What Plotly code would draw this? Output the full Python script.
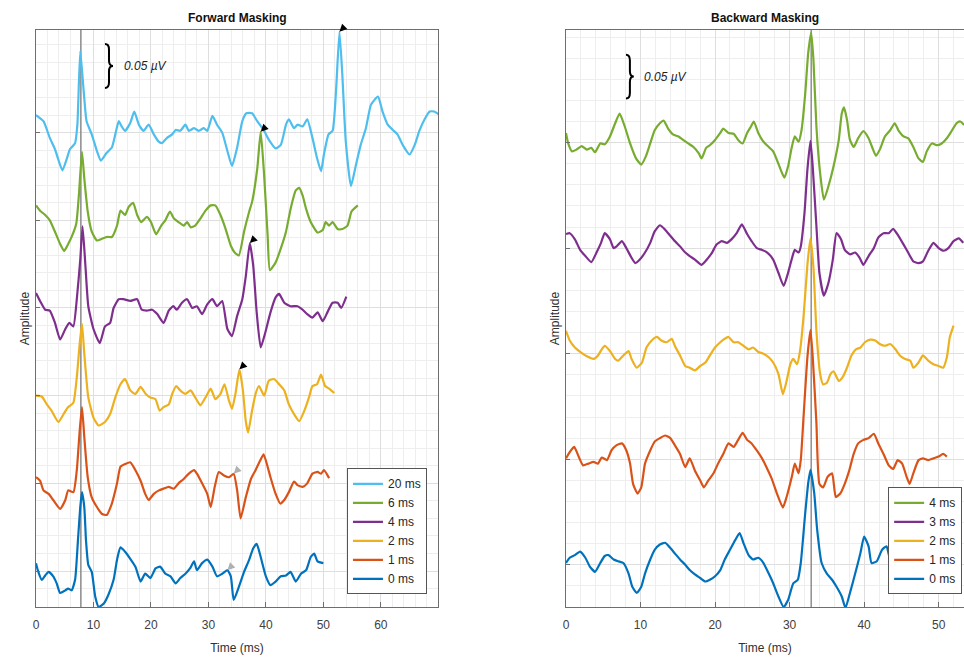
import plotly.graph_objects as go

# ---------------------------------------------------------------------------
# Averaged evoked responses: (time in ms, amplitude in nV) for each condition.
# Each waveform is drawn on its own vertical offset (stacked plot).
# ---------------------------------------------------------------------------

# Forward masking, offsets of 100 nV between traces
fwd_20ms = [(0.0, 20), (1.3, 13), (2.4, -6), (3.3, -19), (4.6, -43), (5.4, -29), (5.9, -19), (6.8, -12),
            (7.2, 9), (7.7, 93), (8.3, 47), (8.8, 13), (9.7, -2), (10.6, -21), (11.3, -32), (12.3, -23),
            (13.2, -17), (13.8, -2), (14.4, 13), (14.9, 7), (15.5, 2), (16.4, 11), (17.1, 24), (17.9, 9),
            (18.7, 2), (19.6, 9), (20.5, -2), (21.3, -10), (21.9, -12), (22.8, -6), (23.7, -2), (24.3, 3),
            (25.1, 2), (26.0, 9), (26.6, 2), (27.5, 5), (28.3, 2), (29.2, 5), (29.8, 2), (30.7, 19),
            (31.5, 9), (32.4, 0), (33.3, -21), (34.1, -38), (35.0, -17), (35.9, 13), (36.6, 22), (37.6, 22),
            (38.5, 13), (39.7, 2), (40.5, -8), (41.7, -18), (42.6, -14), (43.5, 9), (44.0, 15), (44.9, 5),
            (45.5, 9), (46.4, 7), (47.2, 15), (48.1, -6), (48.9, -29), (49.6, -44), (50.1, -25), (50.9, -2),
            (51.6, 2), (52.2, 47), (52.8, 115), (53.3, 66), (53.9, -10), (54.8, -61), (55.7, -36), (56.5, -14),
            (57.4, 5), (58.3, 32), (59.5, 41), (60.3, 24), (61.2, 9), (62.1, 3), (62.9, -2), (63.8, -14),
            (65.0, -25), (65.9, -14), (66.7, 2), (67.6, 15), (68.5, 24), (69.3, 24), (70.2, 20)]

fwd_6ms = [(0.0, 17), (0.7, 11), (1.6, 6), (2.4, 0), (3.3, -13), (4.2, -27), (4.9, -35), (5.6, -27),
           (6.2, -19), (7.0, -4), (7.5, 32), (8.0, 78), (8.4, 48), (9.0, 10), (9.7, -13), (10.6, -23),
           (11.5, -21), (12.4, -19), (13.2, -19), (14.1, -6), (14.7, 11), (15.5, 6), (16.1, 15), (16.9, 20),
           (17.6, 6), (18.3, -2), (19.3, 4), (20.0, -2), (20.9, -16), (21.8, -6), (22.5, 0), (23.3, 10),
           (24.0, 2), (24.8, -2), (25.7, -6), (26.3, -2), (26.9, -8), (27.7, -6), (28.6, 2), (29.5, 11),
           (30.4, 17), (31.2, 17), (32.1, 6), (33.0, -10), (33.9, -29), (34.6, -37), (35.3, -40), (36.2, -13),
           (37.1, 10), (37.6, 21), (38.5, 59), (39.1, 101), (39.7, 51), (40.3, -17), (40.7, -57), (41.7, -48),
           (42.6, -32), (43.5, -13), (44.3, 13), (45.2, 34), (45.8, 37), (46.4, 28), (47.0, 13), (47.8, -2),
           (49.0, -14), (49.9, -11), (50.4, -2), (51.0, -6), (51.6, -2), (52.5, -10), (53.3, -10), (54.2, -6),
           (54.9, 10), (56.0, 17)]

fwd_4ms = [(0.0, 17), (0.7, 8), (1.6, -2), (2.4, -3), (3.3, -17), (4.2, -36), (5.1, -24), (5.8, -17),
           (6.5, -21), (7.1, 10), (7.7, 55), (8.1, 93), (8.6, 48), (9.1, 2), (10.0, -24), (11.1, -40),
           (12.0, -21), (12.9, -17), (13.5, 0), (14.4, 10), (15.2, 10), (16.4, 8), (17.6, 10), (18.4, -2),
           (19.3, -3), (20.2, -2), (21.1, -7), (22.2, -17), (23.1, -3), (23.9, 2), (24.5, -2), (25.4, 6),
           (26.3, 10), (27.2, 0), (28.0, 2), (28.9, -7), (29.8, 4), (30.7, 10), (31.5, 2), (32.4, 8),
           (33.3, -24), (34.1, -32), (35.0, -9), (35.9, 10), (36.5, 36), (37.2, 74), (37.8, 48), (38.4, -5),
           (39.1, -45), (39.9, -28), (40.8, -5), (41.7, 12), (42.3, 16), (43.2, 6), (44.3, 2), (45.5, 2),
           (46.4, -2), (47.2, -7), (48.1, -11), (49.0, -5), (49.9, -15), (50.7, -5), (51.6, 6), (52.5, 6),
           (53.1, 0), (54.0, 13)]

fwd_2ms = [(0.0, 0), (1.0, -1), (1.9, -10), (2.7, -17), (3.9, -30), (4.8, -21), (5.6, -13), (6.5, -8),
           (7.1, 21), (7.6, 59), (8.0, 82), (8.4, 48), (9.1, -2), (10.0, -25), (10.9, -34), (12.0, -30),
           (12.9, -21), (13.8, -2), (14.7, 13), (15.5, 19), (16.4, 6), (17.3, 2), (18.2, 10), (19.1, 2),
           (19.9, -2), (20.8, -4), (21.5, -17), (22.2, -13), (23.1, -10), (23.7, 2), (24.4, 11), (25.1, 6),
           (26.0, 2), (26.9, 6), (27.7, -2), (28.6, -11), (29.5, -2), (30.4, 8), (31.2, -4), (32.1, 2),
           (32.8, 13), (33.6, -6), (34.1, -15), (34.7, 2), (35.4, 30), (36.0, 6), (36.5, -29), (36.9, -42),
           (37.6, -17), (38.2, 2), (38.8, 11), (39.7, 0), (40.5, 17), (41.4, 19), (42.3, 13), (43.2, 6),
           (44.0, -10), (44.9, -21), (45.8, -29), (46.7, -17), (47.5, -2), (48.1, 11), (48.9, 13), (49.6, 24),
           (50.3, 11), (51.0, 8), (51.9, 3)]

fwd_1ms = [(0.0, 7), (0.7, 3), (1.3, -8), (2.2, -12), (3.0, -19), (4.2, -29), (5.1, -19), (5.6, -8),
           (6.5, -10), (7.1, 15), (7.6, 60), (8.0, 87), (8.4, 53), (9.0, 7), (9.7, -16), (10.6, -27),
           (11.5, -35), (12.3, -36), (13.2, -23), (14.1, 0), (14.7, 19), (15.5, 22), (16.4, 24), (17.3, 15),
           (18.2, 3), (19.0, -12), (19.6, -19), (20.5, -12), (21.4, -8), (22.2, -6), (23.1, -4), (24.0, -6),
           (24.8, 0), (25.7, 5), (26.6, 11), (27.5, 15), (28.0, 11), (28.9, 0), (29.8, -12), (30.4, -27),
           (31.1, -4), (31.8, 13), (32.7, 9), (33.6, 7), (34.4, 11), (35.0, -8), (35.6, -40), (36.5, -16),
           (37.4, 5), (38.2, 15), (39.0, 26), (39.6, 33), (40.3, 19), (40.8, 7), (41.7, -12), (42.5, -23),
           (43.2, -19), (44.0, -10), (44.9, 2), (45.5, -2), (46.4, -4), (47.2, 0), (48.1, 11), (49.0, 13),
           (49.6, 11), (50.1, 15), (51.0, 6)]

fwd_0ms = [(0.0, 9), (0.4, -1), (1.0, -10), (1.6, -5), (2.2, -1), (3.0, -6), (3.6, -14), (4.2, -25),
           (5.1, -22), (5.6, -20), (6.2, -22), (6.8, -10), (7.3, 35), (7.7, 73), (8.0, 90), (8.4, 73),
           (8.7, 35), (9.1, 7), (9.7, -1), (10.3, -29), (10.9, -41), (11.8, -37), (12.6, -27), (13.5, -10),
           (14.1, 13), (14.7, 27), (15.5, 22), (16.4, 14), (17.3, 5), (18.2, -12), (19.0, -3), (19.9, -8),
           (20.8, 3), (21.6, 5), (22.5, -3), (23.4, -6), (24.3, -14), (25.1, -8), (26.0, -3), (26.8, 3),
           (27.5, 11), (28.0, 1), (28.9, 9), (29.8, 13), (30.7, 5), (31.5, -6), (32.4, -3), (33.3, 1),
           (33.9, -6), (34.4, -33), (35.3, -18), (36.2, -1), (37.1, 13), (37.8, 26), (38.4, 31), (39.1, 16),
           (40.0, -6), (40.8, -16), (41.7, -12), (42.6, -6), (43.5, -5), (44.3, -1), (45.2, -12), (46.1, -3),
           (47.0, 1), (47.8, 16), (48.4, 20), (49.0, 11), (50.0, 9)]

# Backward masking, offsets of 120 nV between traces
bwd_4ms = [(0.0, 11), (0.3, -1), (0.8, -10), (1.4, -8), (2.1, -4), (2.8, -8), (3.4, -6), (3.9, -11),
           (4.6, -1), (5.2, -2), (5.9, 7), (6.6, 22), (7.2, 33), (7.9, 18), (8.6, -1), (9.4, -18),
           (10.1, -25), (10.7, -16), (11.3, -1), (11.9, 14), (12.6, 22), (13.1, 25), (13.7, 16), (14.4, 9),
           (15.1, 7), (15.7, 3), (16.4, -1), (17.1, -5), (17.8, -12), (18.2, -18), (18.8, -6), (19.3, -3),
           (20.0, 3), (20.7, 11), (21.1, 16), (21.8, 11), (22.5, 10), (23.1, 3), (23.7, -1), (24.3, 11),
           (24.8, 18), (25.2, 24), (25.8, 11), (26.5, 1), (27.2, -5), (27.8, -10), (28.5, -24), (29.3, -40),
           (29.8, -27), (30.3, -5), (30.7, 7), (31.2, 1), (31.6, 14), (32.1, 56), (32.5, 102), (32.9, 125),
           (33.2, 94), (33.6, 18), (34.1, -35), (34.6, -65), (35.2, -50), (35.9, -27), (36.6, 3), (37.0, 33),
           (37.3, 40), (37.7, 26), (38.1, 3), (38.6, -5), (39.2, 5), (39.9, 13), (40.6, 5), (41.2, -8),
           (41.6, -15), (42.1, -8), (42.8, 7), (43.5, 14), (44.1, 22), (44.6, 14), (45.3, 7), (45.9, 5),
           (46.6, -5), (47.3, -18), (47.9, -22), (48.4, -10), (49.1, -1), (49.8, -3), (50.4, -1), (51.1, 5),
           (51.8, 14), (52.4, 22), (52.9, 24), (53.4, 20)]

bwd_3ms = [(0.0, 16), (0.5, 17), (1.2, 10), (1.9, -2), (2.6, -9), (3.4, -16), (4.1, -5), (4.7, 6),
           (5.2, 17), (5.9, 10), (6.4, 0), (6.8, 2), (7.5, 8), (8.1, 0), (8.8, -11), (9.3, -17),
           (9.9, -13), (10.6, -5), (11.3, 6), (11.9, 19), (12.6, 26), (13.3, 21), (14.0, 14), (14.6, 8),
           (15.3, 2), (16.0, -5), (16.6, -9), (17.3, -13), (18.2, -19), (18.9, -13), (19.6, -5), (20.2, 4),
           (20.9, 8), (21.6, 6), (22.2, 10), (22.9, 17), (23.6, 27), (24.3, 16), (24.9, 8), (25.6, 0),
           (26.3, -2), (27.0, -5), (27.8, -13), (28.5, -28), (29.2, -43), (29.8, -28), (30.4, -9), (30.7, -2),
           (31.2, -5), (31.5, 2), (32.0, 40), (32.4, 90), (32.8, 122), (33.1, 93), (33.6, 25), (34.0, -28),
           (34.6, -54), (35.2, -40), (35.8, -13), (36.3, 17), (36.9, 10), (37.4, -2), (38.1, -7), (38.8, -5),
           (39.4, -11), (39.9, -19), (40.6, -9), (41.3, 0), (41.9, 12), (42.6, 17), (43.3, 17), (43.9, 22),
           (44.6, 14), (45.3, 4), (45.9, -5), (46.6, -15), (47.3, -17), (47.9, -15), (48.6, -3), (49.3, 6),
           (50.0, 0), (50.7, -3), (51.3, 0), (52.0, 8), (52.7, 11), (53.3, 6)]

bwd_2ms = [(0.0, 26), (0.5, 15), (1.2, 7), (1.9, 2), (2.8, -3), (3.7, -6), (4.3, -2), (4.8, 5),
           (5.2, 9), (5.9, 3), (6.6, -6), (7.0, -8), (7.7, -2), (8.4, 3), (8.8, -6), (9.5, -16),
           (10.2, -10), (10.8, 7), (11.5, 15), (12.2, 19), (12.8, 15), (13.5, 13), (14.2, 17), (14.6, 9),
           (15.3, -2), (16.0, -14), (16.6, -16), (17.3, -19), (18.0, -14), (18.7, -10), (19.3, -2), (20.0, 7),
           (20.7, 13), (21.3, 17), (21.8, 19), (22.5, 13), (23.1, 13), (23.8, 9), (24.5, 5), (25.1, 7),
           (25.8, 2), (26.5, 0), (27.2, -4), (27.8, -10), (28.5, -23), (29.1, -46), (29.6, -31), (30.1, -12),
           (30.5, -6), (31.0, -12), (31.4, 3), (31.9, 45), (32.4, 102), (32.8, 131), (33.2, 98), (33.6, 26),
           (34.1, -23), (34.5, -35), (35.0, -33), (35.5, -23), (35.9, -20), (36.6, -31), (37.1, -27), (37.7, -16),
           (38.3, -2), (38.9, 5), (39.5, 7), (40.1, 13), (40.8, 16), (41.5, 15), (42.1, 11), (42.8, 9),
           (43.5, 11), (44.2, 5), (44.8, -2), (45.5, -6), (46.2, -8), (46.6, -16), (47.3, -10), (47.9, -2),
           (48.6, -8), (49.3, -12), (50.0, -14), (50.6, -16), (51.1, -4), (51.5, 19), (52.0, 32)]

bwd_1ms = [(0.0, 1), (0.5, 8), (1.1, 14), (1.7, 3), (2.3, -7), (3.0, -5), (3.7, -3), (4.3, -5),
           (4.8, 2), (5.5, -1), (6.1, 10), (6.8, 16), (7.5, 18), (8.1, 10), (8.6, -5), (9.0, -28),
           (9.6, -39), (10.1, -32), (10.6, -5), (11.3, 10), (11.9, 20), (12.6, 24), (13.3, 27), (14.0, 24),
           (14.6, 16), (15.3, 6), (16.0, -9), (16.6, 1), (17.3, -13), (18.0, -24), (18.5, -32), (19.1, -24),
           (19.8, -16), (20.4, -5), (21.1, 6), (21.8, 18), (22.5, 14), (23.1, 22), (23.7, 30), (24.3, 22),
           (24.9, 18), (25.6, 10), (26.3, 1), (26.9, -9), (27.6, -22), (28.3, -39), (29.1, -55), (29.6, -43),
           (30.3, -20), (30.7, -5), (31.2, -16), (31.5, -1), (31.9, 52), (32.4, 117), (32.8, 147), (33.1, 117),
           (33.6, 41), (34.0, -28), (34.5, -32), (35.1, -20), (35.7, -16), (36.2, -43), (36.8, -39), (37.4, -28),
           (38.0, -13), (38.6, 6), (39.2, 18), (39.9, 22), (40.6, 24), (41.3, 29), (41.9, 18), (42.6, 6),
           (43.3, -7), (43.9, -11), (44.5, -1), (45.1, -5), (45.7, -20), (46.1, -28), (46.6, -16), (47.3, -1),
           (47.9, 1), (48.6, -1), (49.3, 1), (50.0, 3), (50.6, 6), (51.1, 3)]

bwd_0ms = [(0.0, 2), (0.5, 8), (1.2, 11), (1.9, 15), (2.6, 8), (3.2, -2), (3.9, -8), (4.6, 2),
           (5.2, 10), (5.7, 11), (6.4, 6), (7.0, 4), (7.7, 2), (8.4, -10), (8.9, -25), (9.5, -32),
           (10.1, -25), (10.6, -10), (11.3, 6), (11.9, 17), (12.6, 23), (13.3, 25), (14.0, 19), (14.6, 13),
           (15.3, 6), (16.0, 0), (16.6, -6), (17.3, -11), (18.0, -15), (18.7, -19), (19.3, -17), (20.0, -13),
           (20.7, -6), (21.3, 6), (22.0, 17), (22.7, 28), (23.3, 36), (23.8, 25), (24.5, 11), (25.1, 6),
           (25.8, 8), (26.5, 2), (27.2, -10), (27.8, -21), (28.5, -36), (29.2, -48), (29.8, -40), (30.5, -21),
           (31.1, -17), (31.5, 2), (32.1, 59), (32.5, 93), (32.8, 108), (33.3, 82), (33.7, 40), (34.3, 2),
           (35.0, -10), (35.7, -17), (36.3, -25), (37.0, -36), (37.5, -49), (38.1, -32), (38.8, -10), (39.5, 13),
           (40.0, 32), (40.6, 21), (41.0, 2), (41.7, 4), (42.4, 17), (43.0, 21), (43.5, 6), (44.2, 2),
           (44.8, 8), (45.5, 2)]

# Condition labels, colours and stacking offsets (nV)
fwd_labels = ["20 ms", "6 ms", "4 ms", "2 ms", "1 ms", "0 ms"]
fwd_series = [fwd_20ms, fwd_6ms, fwd_4ms, fwd_2ms, fwd_1ms, fwd_0ms]
fwd_offsets = [500, 400, 300, 200, 100, 0]
fwd_colors = ["#4DBEEE", "#77AC30", "#7E2F8E", "#EDB120", "#D95319", "#0072BD"]

bwd_labels = ["4 ms", "3 ms", "2 ms", "1 ms", "0 ms"]
bwd_series = [bwd_4ms, bwd_3ms, bwd_2ms, bwd_1ms, bwd_0ms]
bwd_offsets = [480, 360, 240, 120, 0]
bwd_colors = ["#77AC30", "#7E2F8E", "#EDB120", "#D95319", "#0072BD"]

# Peaks flagged with arrowheads in the forward-masking panel: (series index, time ms, colour)
fwd_arrows = [(0, 52.8, "black"), (1, 39.1, "black"), (2, 37.2, "black"),
              (3, 35.4, "black"), (4, 34.4, "#b0b0b0"), (5, 33.3, "#b0b0b0")]

stim_time_fwd = 7.8     # probe onset marker (ms)
stim_time_bwd = 32.9
scale_bar_nv = 50       # 0.05 uV

fwd_xrange = [0, 69.95]
bwd_xrange = [0, 53.4]
fwd_yrange = [-41, 617]
bwd_yrange = [-48, 608]

FONT = "Liberation Sans, Arial, sans-serif"
AXIS_COL = "#6e6e6e"
GRID_COL = "#dedede"
MINOR_COL = "#eeeeee"

fig = go.Figure()

# Stimulus-onset markers (drawn first so the waveforms sit on top)
for xa, ya, t0, yr in (("x", "y", stim_time_fwd, fwd_yrange), ("x2", "y2", stim_time_bwd, bwd_yrange)):
    fig.add_trace(go.Scatter(x=[t0, t0], y=yr, mode="lines", line=dict(color="#8f8f8f", width=1.5),
                             xaxis=xa, yaxis=ya, showlegend=False, hoverinfo="skip"))


def add_panel(series, labels, offsets, colors, xa, ya, legend):
    for pts, lab, off, col in zip(series, labels, offsets, colors):
        fig.add_trace(go.Scatter(
            x=[p[0] for p in pts], y=[off + p[1] for p in pts],
            mode="lines", name=lab, line=dict(color=col, width=2.2, shape="spline", smoothing=0.5),
            xaxis=xa, yaxis=ya, legend=legend, hoverinfo="skip"))


add_panel(fwd_series, fwd_labels, fwd_offsets, fwd_colors, "x", "y", "legend")
add_panel(bwd_series, bwd_labels, bwd_offsets, bwd_colors, "x2", "y2", "legend2")


def xaxis_cfg(domain, rng, anchor):
    return dict(domain=domain, range=rng, anchor=anchor, dtick=10, tick0=0, ticks="inside", ticklen=5,
                tickcolor=AXIS_COL, showline=True, linecolor=AXIS_COL, linewidth=1, mirror=True,
                showgrid=True, gridcolor=GRID_COL, gridwidth=1, zeroline=False,
                minor=dict(dtick=2, tick0=0, showgrid=True, gridcolor=MINOR_COL, ticks=""),
                tickfont=dict(family=FONT, size=12, color="#404040"),
                ticklabelstandoff=7,
                title=dict(text="Time (ms)", font=dict(family=FONT, size=12, color="#303030"), standoff=12))


def yaxis_cfg(rng, offsets, minor_step, anchor):
    return dict(domain=[0, 1], range=rng, tickvals=offsets, showticklabels=False, ticks="inside",
                ticklen=4, tickcolor=AXIS_COL, showline=True, linecolor=AXIS_COL, linewidth=1, mirror=True,
                showgrid=True, gridcolor=GRID_COL, zeroline=False, anchor=anchor,
                minor=dict(dtick=minor_step, tick0=0, showgrid=True, gridcolor=MINOR_COL, ticks=""),
                title=dict(text="Amplitude", font=dict(family=FONT, size=12, color="#303030"), standoff=2))


fig.update_layout(
    width=964, height=658,
    margin=dict(l=36, r=0, t=30, b=51),
    paper_bgcolor="white", plot_bgcolor="white",
    font=dict(family=FONT, size=12, color="#262626"),
    xaxis=xaxis_cfg([0, 0.4332], fwd_xrange, "y"),
    yaxis=yaxis_cfg(fwd_yrange, fwd_offsets, 20, "x"),
    xaxis2=xaxis_cfg([0.5711, 1.0], bwd_xrange, "y2"),
    yaxis2=yaxis_cfg(bwd_yrange, bwd_offsets, 24, "x2"),
    legend=dict(x=0.4213, y=0.022, xanchor="right", yanchor="bottom", bgcolor="white",
                bordercolor="#555555", borderwidth=1, font=dict(family=FONT, size=12, color="#262626"),
                itemwidth=30, tracegroupgap=0),
    legend2=dict(x=0.998, y=0.022, xanchor="right", yanchor="bottom", bgcolor="white",
                 bordercolor="#555555", borderwidth=1, font=dict(family=FONT, size=12, color="#262626"),
                 itemwidth=30, tracegroupgap=0),
    showlegend=True,
)

# Panel titles
for xref, title in (("x domain", "Forward Masking"), ("x2 domain", "Backward Masking")):
    fig.add_annotation(xref=xref, yref="paper", x=0.5, y=1, yanchor="bottom", yshift=3,
                       text=f"<b>{title}</b>", showarrow=False,
                       font=dict(family=FONT, size=12, color="#111111"))


# Curly-brace scale bars
def brace(xref, yref, x_left, width, y_bottom, height):
    xm, xr = x_left + width / 2, x_left + width
    yt, yb = y_bottom + height, y_bottom
    ym, q = (yt + yb) / 2, height / 8
    path = (f"M {x_left},{yt} Q {xm},{yt} {xm},{yt - q} L {xm},{ym + q} "
            f"Q {xm},{ym} {xr},{ym} Q {xm},{ym} {xm},{ym - q} L {xm},{yb + q} "
            f"Q {xm},{yb} {x_left},{yb}")
    fig.add_shape(type="path", xref=xref, yref=yref, path=path, line=dict(color="black", width=2))
    return ym


for xref, yref, x0, w, y0, tx in (("x", "y", 12.0, 1.4, 551, 15.0), ("x2", "y2", 8.05, 1.05, 530, 10.2)):
    ymid = brace(xref, yref, x0, w, y0, scale_bar_nv)
    fig.add_annotation(xref=xref, yref=yref, x=tx, y=ymid, xanchor="left", yanchor="middle",
                       text="<i>0.05 \u00b5V</i>", showarrow=False,
                       font=dict(family=FONT, size=12, color="#222222"))

# Arrowheads on the flagged peaks, positioned on the drawn data
for idx, t_peak, col in fwd_arrows:
    pts = fwd_series[idx]
    tp, amp = min(pts, key=lambda p: abs(p[0] - t_peak))
    fig.add_annotation(xref="x", yref="y", x=tp, y=fwd_offsets[idx] + amp, ax=6, ay=-6,
                       text="", showarrow=True, arrowhead=2, arrowsize=1.0, arrowwidth=1.5,
                       arrowcolor=col, standoff=0)

fig.write_html("out.html")
